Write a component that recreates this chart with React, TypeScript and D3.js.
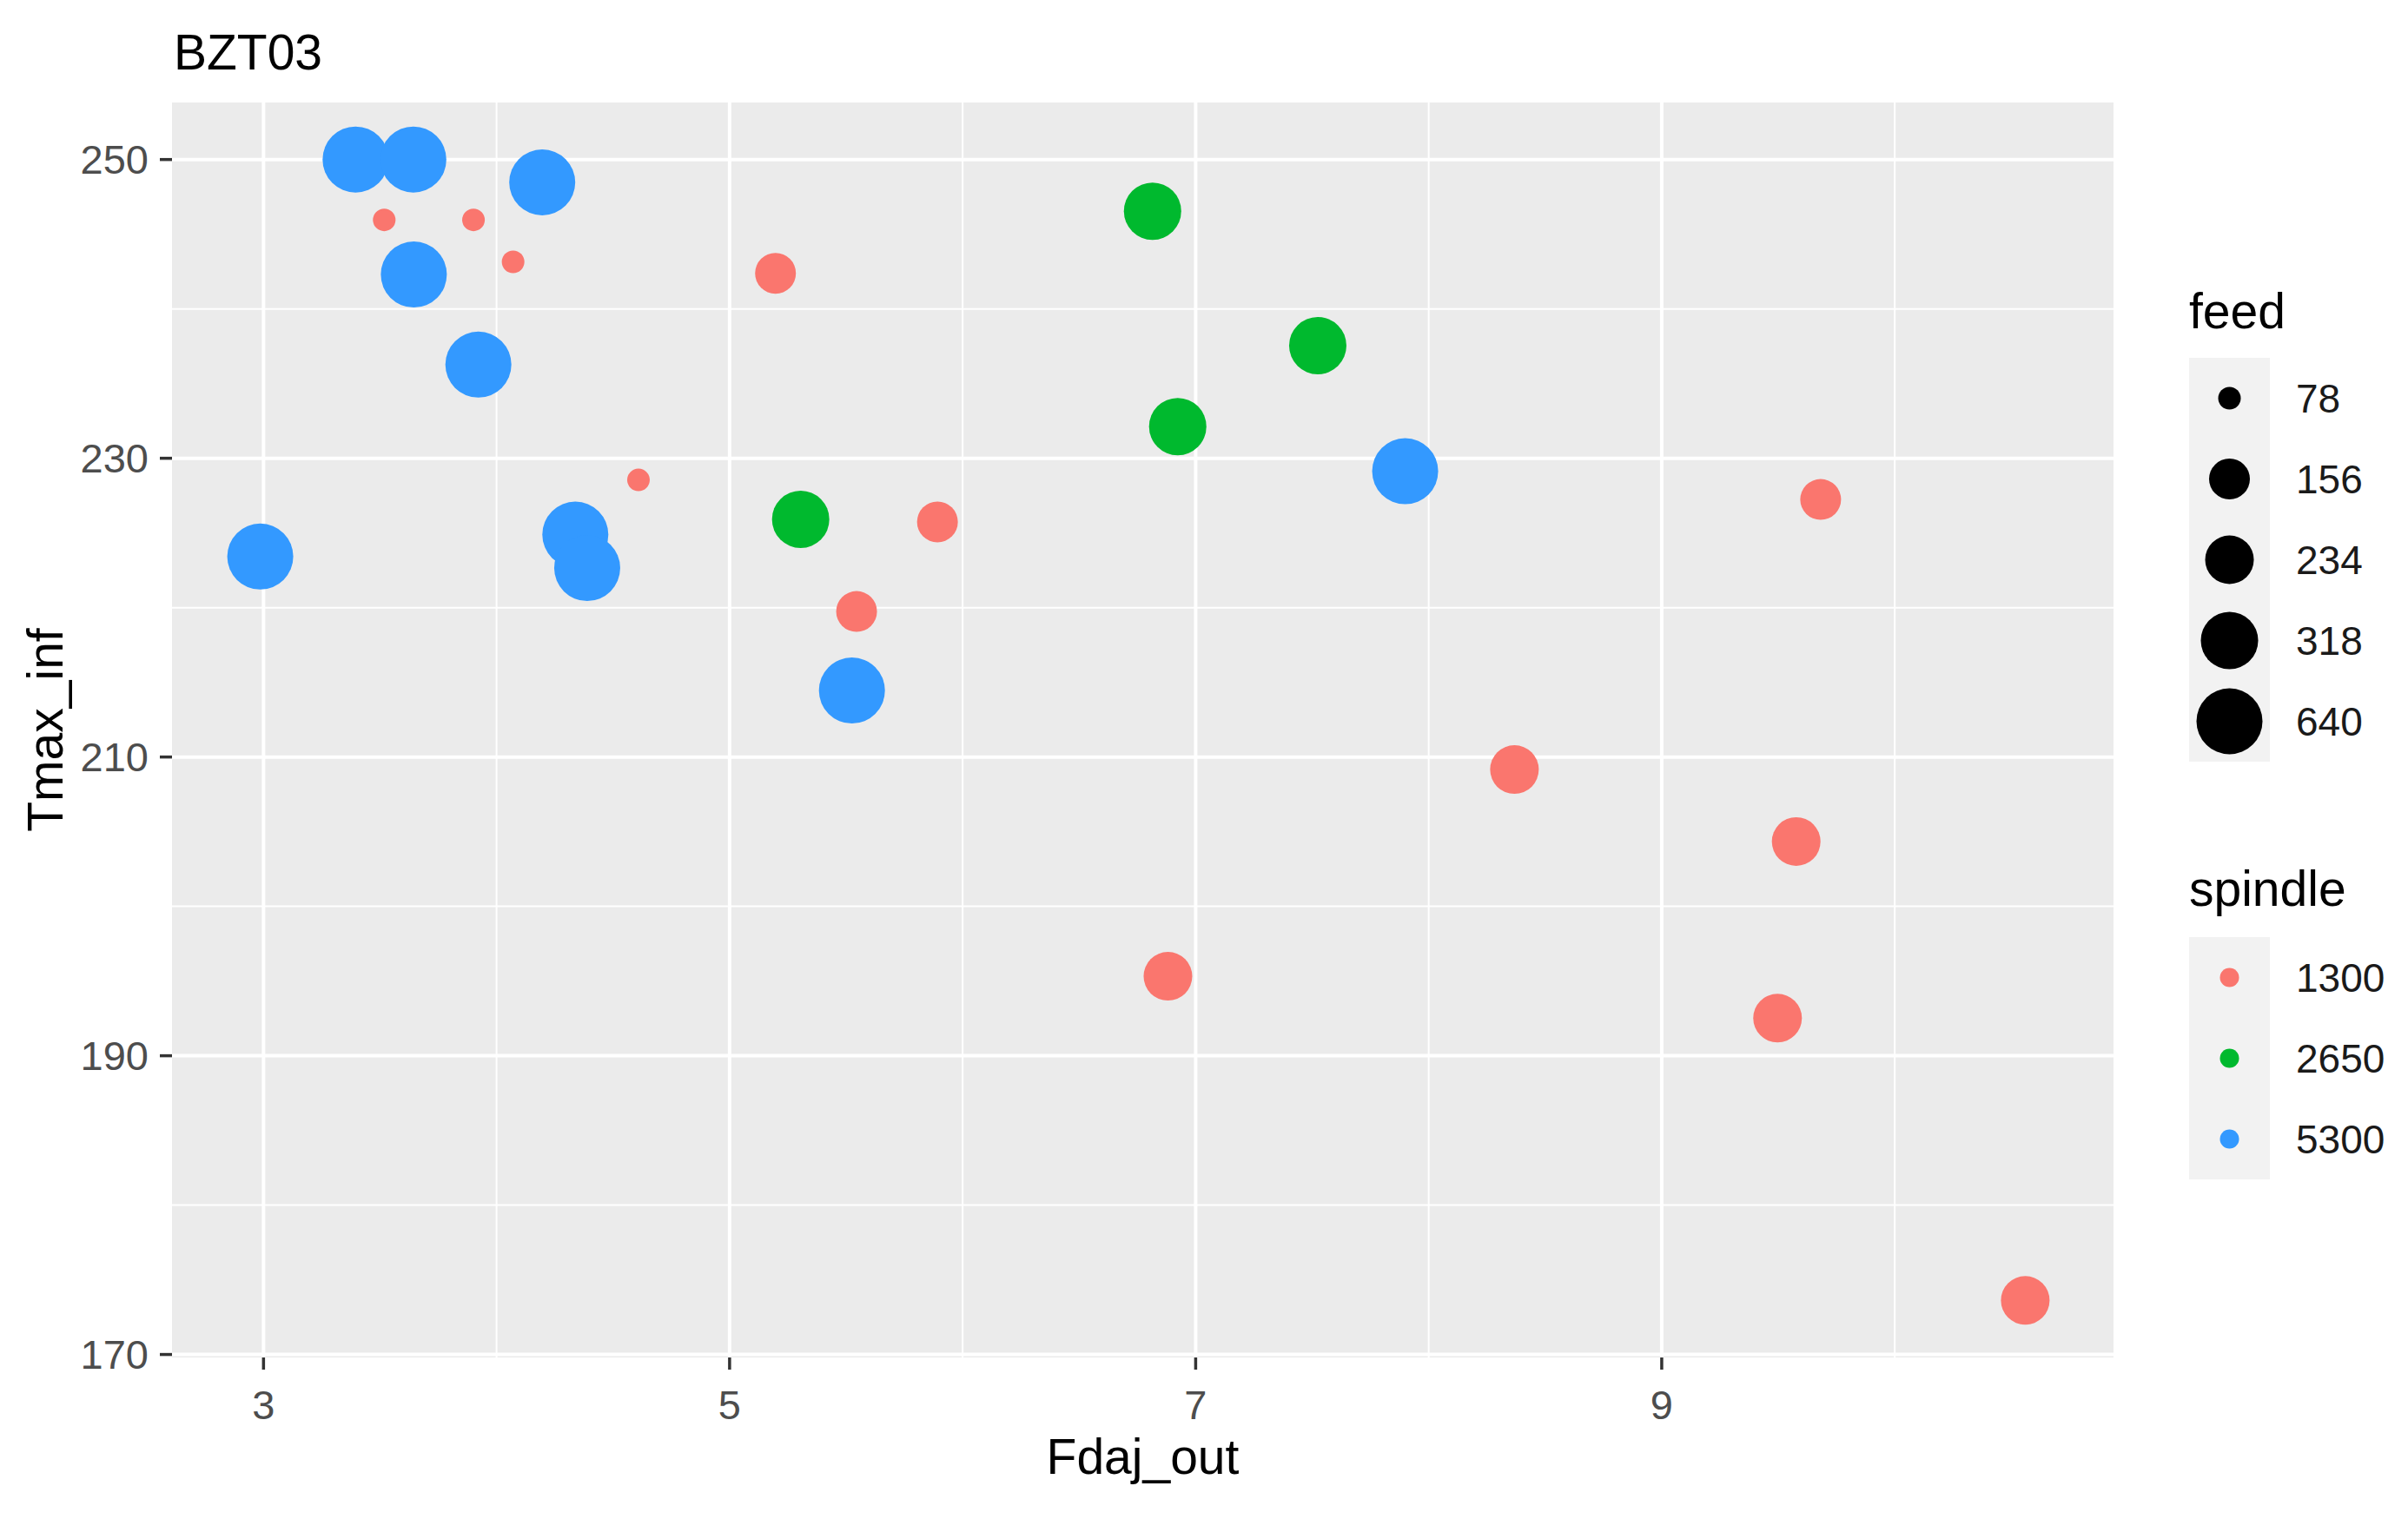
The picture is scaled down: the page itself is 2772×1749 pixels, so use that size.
import React from "react";
import * as d3 from "d3";

// data
const fdajOut = [
  3.395, 3.643, 4.196, 3.645, 3.922, 2.986, 4.338, 4.389, 5.525, 7.899,
  6.815, 7.524, 6.923, 5.305,
  3.518, 3.901, 4.071, 4.609,
  5.197, 5.892, 5.545, 9.682,
  6.881, 8.368, 9.577, 9.497, 10.56,
];
const tmaxInf = [
  250.0, 250.0, 248.47, 242.3, 236.27, 223.42, 224.89, 222.65, 214.45, 229.13,
  246.54, 237.54, 232.12, 225.91,
  245.96, 245.96, 243.15, 228.55,
  242.38, 225.74, 219.74, 227.24,
  195.32, 209.16, 204.34, 192.52, 173.62,
];
const spindle = [
  5300, 5300, 5300, 5300, 5300, 5300, 5300, 5300, 5300, 5300,
  2650, 2650, 2650, 2650,
  1300, 1300, 1300, 1300,
  1300, 1300, 1300, 1300,
  1300, 1300, 1300, 1300, 1300,
];
const feed = [
  640, 640, 640, 640, 640, 640, 640, 640, 640, 640,
  318, 318, 318, 318,
  78, 78, 78, 78,
  156, 156, 156, 156,
  234, 234, 234, 234, 234,
];

const feedLevels = [78, 156, 234, 318, 640];
const spindleLevels = [1300, 2650, 5300];
const xTicks = [3, 5, 7, 9];
const yTicks = [170, 190, 210, 230, 250];

const W = 2772;
const H = 1749;
const panel = { left: 198, right: 2433, top: 118, bottom: 1563 };
const font = "'Liberation Sans', Arial, Helvetica, sans-serif";

const expand = (ext: [number, number]) => {
  const pad = (ext[1] - ext[0]) * 0.05;
  return [ext[0] - pad, ext[1] + pad];
};

export default function App() {
  const x = d3
    .scaleLinear()
    .domain(expand(d3.extent(fdajOut) as [number, number]))
    .range([panel.left, panel.right]);
  const y = d3
    .scaleLinear()
    .domain(expand(d3.extent(tmaxInf) as [number, number]))
    .range([panel.bottom, panel.top]);

  const color = d3
    .scaleOrdinal<number, string>()
    .domain(spindleLevels)
    .range(["#FA766E", "#00B92E", "#3399FF"]);
  const radius = d3
    .scaleOrdinal<number, number>()
    .domain(feedLevels)
    .range([13, 23.5, 28, 33, 38]);

  const minorX = d3.range(4, 11, 2);
  const minorY = d3.range(180, 250, 20);

  const points = fdajOut.map((v, i) => ({
    x: v,
    y: tmaxInf[i],
    s: spindle[i],
    f: feed[i],
  }));

  const keyH = 93;
  const keyX = 2520;
  const keyW = 93;
  const feedTop = 412;
  const spinTop = 1079;

  return (
    <svg
      width={W}
      height={H}
      style={{ position: "absolute", left: 0, top: 0, background: "#fff" }}
      fontFamily={font}
    >
      <rect x={0} y={0} width={W} height={H} fill="#fff" />
      {/* panel */}
      <rect
        x={panel.left}
        y={panel.top}
        width={panel.right - panel.left}
        height={panel.bottom - panel.top}
        fill="#EBEBEB"
      />
      {minorX.map((t) => (
        <line key={"mx" + t} x1={x(t)} x2={x(t)} y1={panel.top} y2={panel.bottom} stroke="#fff" strokeWidth={2} />
      ))}
      {minorY.map((t) => (
        <line key={"my" + t} y1={y(t)} y2={y(t)} x1={panel.left} x2={panel.right} stroke="#fff" strokeWidth={2} />
      ))}
      {xTicks.map((t) => (
        <line key={"gx" + t} x1={x(t)} x2={x(t)} y1={panel.top} y2={panel.bottom} stroke="#fff" strokeWidth={4} />
      ))}
      {yTicks.map((t) => (
        <line key={"gy" + t} y1={y(t)} y2={y(t)} x1={panel.left} x2={panel.right} stroke="#fff" strokeWidth={4} />
      ))}

      {/* points */}
      {points.map((p, i) => (
        <circle key={i} cx={x(p.x)} cy={y(p.y)} r={radius(p.f)} fill={color(p.s)} />
      ))}

      {/* axes */}
      {xTicks.map((t) => (
        <g key={"tx" + t}>
          <line x1={x(t)} x2={x(t)} y1={panel.bottom} y2={panel.bottom + 14} stroke="#333" strokeWidth={3.5} />
          <text x={x(t)} y={1634} textAnchor="middle" fontSize={47} fill="#4D4D4D">
            {t}
          </text>
        </g>
      ))}
      {yTicks.map((t) => (
        <g key={"ty" + t}>
          <line x1={panel.left - 14} x2={panel.left} y1={y(t)} y2={y(t)} stroke="#333" strokeWidth={3.5} />
          <text x={171} y={y(t)} dy="0.35em" textAnchor="end" fontSize={47} fill="#4D4D4D">
            {t}
          </text>
        </g>
      ))}

      {/* titles */}
      <text x={200} y={80} fontSize={57}>BZT03</text>
      <text x={(panel.left + panel.right) / 2} y={1697} textAnchor="middle" fontSize={57}>
        Fdaj_out
      </text>
      <text
        transform={`translate(72, ${(panel.top + panel.bottom) / 2}) rotate(-90)`}
        textAnchor="middle"
        fontSize={57}
      >
        Tmax_inf
      </text>

      {/* feed legend */}
      <text x={keyX} y={378} fontSize={57}>feed</text>
      <rect x={keyX} y={feedTop} width={keyW} height={keyH * feedLevels.length} fill="#F2F2F2" />
      {feedLevels.map((f, i) => {
        const cy = feedTop + keyH * i + keyH / 2;
        return (
          <g key={"fl" + f}>
            <circle cx={keyX + keyW / 2} cy={cy} r={radius(f)} fill="#000" />
            <text x={2643} y={cy} dy="0.35em" fontSize={46} fill="#1A1A1A">
              {f}
            </text>
          </g>
        );
      })}

      {/* spindle legend */}
      <text x={keyX} y={1043} fontSize={57}>spindle</text>
      <rect x={keyX} y={spinTop} width={keyW} height={keyH * spindleLevels.length} fill="#F2F2F2" />
      {spindleLevels.map((s, i) => {
        const cy = spinTop + keyH * i + keyH / 2;
        return (
          <g key={"sl" + s}>
            <circle cx={keyX + keyW / 2} cy={cy} r={11} fill={color(s)} />
            <text x={2643} y={cy} dy="0.35em" fontSize={46} fill="#1A1A1A">
              {s}
            </text>
          </g>
        );
      })}
    </svg>
  );
}
